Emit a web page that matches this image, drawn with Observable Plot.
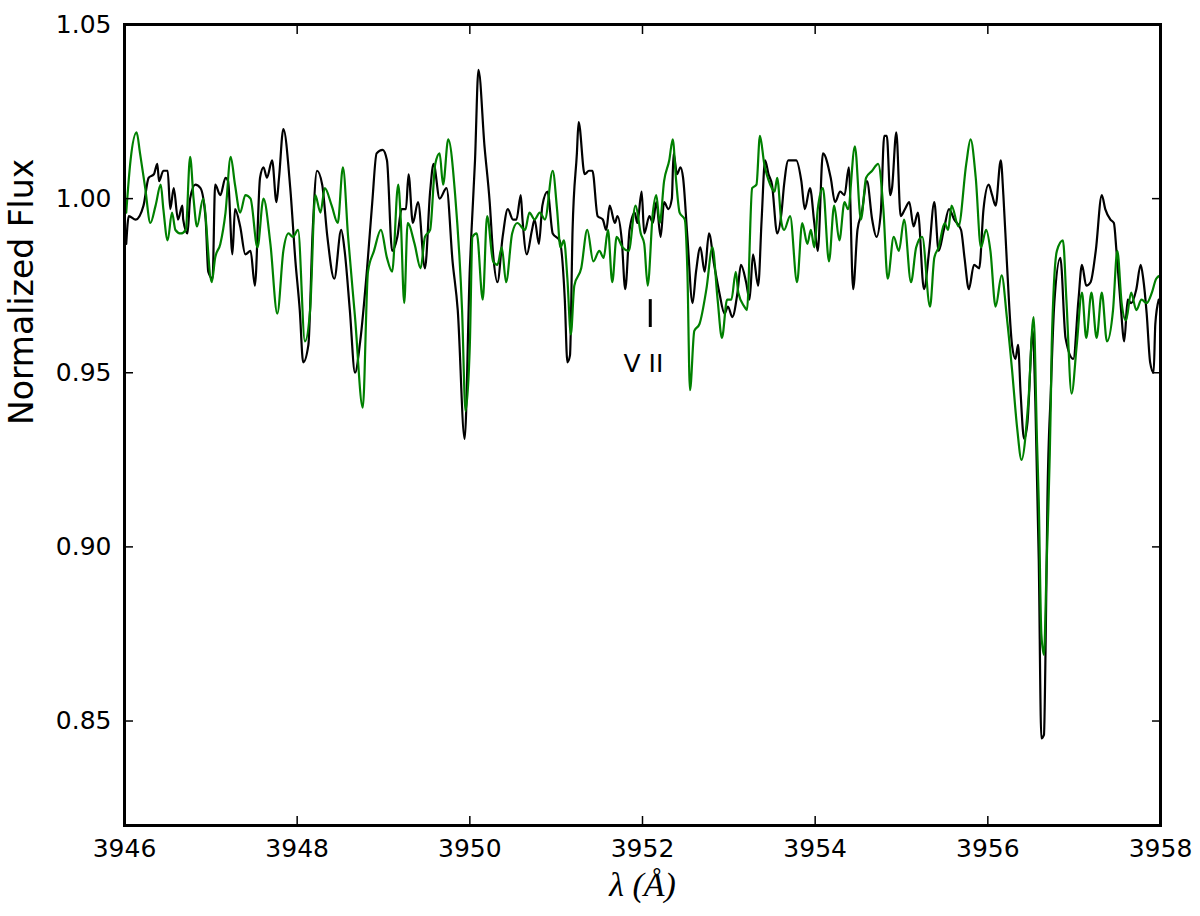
<!DOCTYPE html>
<html><head><meta charset="utf-8">
<script src="https://cdn.jsdelivr.net/npm/d3@7"></script>
<script src="https://cdn.jsdelivr.net/npm/@observablehq/plot@0.6"></script>
<style>body{margin:0;background:#fff}</style>
</head><body><div id="chart"></div>
<script>
// [wavelength (Å), normalized flux]
const blackSpectrum = [
[3946.02,0.987],[3946.05,0.995],[3946.13,0.994],[3946.22,0.998],[3946.28,1.006],[3946.34,1.007],[3946.38,1.010],[3946.40,1.005],[3946.45,1.008],[3946.50,1.008],
[3946.53,0.997],[3946.57,1.003],[3946.62,0.994],[3946.67,0.998],[3946.68,0.994],[3946.73,0.990],[3946.76,1.000],[3946.82,1.004],[3946.88,1.003],[3946.94,0.994],
[3946.97,0.979],[3947.02,0.977],[3947.05,1.004],[3947.11,1.001],[3947.17,1.006],[3947.20,1.005],[3947.25,0.984],[3947.28,0.997],[3947.34,0.992],[3947.40,0.984],
[3947.46,0.985],[3947.51,0.975],[3947.57,1.006],[3947.61,1.009],[3947.65,1.006],[3947.71,1.011],[3947.76,0.999],[3947.79,1.006],[3947.84,1.020],[3947.92,1.003],
[3947.98,0.982],[3948.03,0.968],[3948.07,0.953],[3948.13,0.958],[3948.18,0.991],[3948.23,1.008],[3948.29,1.004],[3948.35,0.989],[3948.43,0.977],[3948.51,0.991],
[3948.55,0.985],[3948.61,0.968],[3948.67,0.950],[3948.73,0.959],[3948.81,0.980],[3948.87,0.999],[3948.92,1.013],[3948.99,1.014],[3949.04,1.011],[3949.10,0.985],
[3949.16,0.989],[3949.21,0.997],[3949.26,0.997],[3949.29,1.007],[3949.34,0.993],[3949.40,0.999],[3949.48,0.980],[3949.54,1.002],[3949.58,1.010],[3949.65,1.000],
[3949.73,1.003],[3949.80,0.982],[3949.86,0.968],[3949.94,0.931],[3950.00,0.980],[3950.02,0.991],[3950.06,1.011],[3950.10,1.037],[3950.17,1.015],[3950.23,0.999],
[3950.27,0.984],[3950.32,0.976],[3950.38,0.989],[3950.44,0.997],[3950.50,0.994],[3950.54,0.994],[3950.59,1.001],[3950.61,0.994],[3950.66,0.984],[3950.72,0.991],
[3950.75,0.994],[3950.80,0.987],[3950.84,0.998],[3950.90,1.002],[3950.96,0.990],[3951.04,0.988],[3951.10,0.971],[3951.13,0.953],[3951.16,0.955],[3951.19,0.991],
[3951.24,1.013],[3951.26,1.022],[3951.33,1.007],[3951.38,1.008],[3951.42,1.008],[3951.48,0.995],[3951.54,0.994],[3951.58,0.991],[3951.62,0.998],[3951.68,0.993],
[3951.71,0.995],[3951.76,0.988],[3951.80,0.974],[3951.85,0.991],[3951.91,0.996],[3951.94,0.993],[3951.99,1.002],[3952.02,0.990],[3952.08,0.995],[3952.12,0.993],
[3952.16,0.999],[3952.21,0.989],[3952.25,0.999],[3952.30,0.997],[3952.34,1.000],[3952.36,1.013],[3952.40,1.007],[3952.44,1.009],[3952.47,1.006],[3952.52,0.989],
[3952.58,0.970],[3952.62,0.979],[3952.67,0.986],[3952.72,0.979],[3952.77,0.990],[3952.83,0.981],[3952.89,0.973],[3952.95,0.967],[3952.99,0.969],[3953.04,0.966],
[3953.10,0.973],[3953.14,0.981],[3953.20,0.976],[3953.24,0.971],[3953.28,0.984],[3953.34,0.975],[3953.38,0.994],[3953.42,1.011],[3953.46,1.007],[3953.50,1.004],
[3953.56,0.990],[3953.61,0.996],[3953.64,1.004],[3953.69,1.011],[3953.73,1.011],[3953.78,1.011],[3953.84,1.005],[3953.88,0.997],[3953.94,1.003],[3953.99,0.993],
[3954.03,0.985],[3954.09,1.013],[3954.18,1.006],[3954.23,0.999],[3954.29,1.002],[3954.34,1.001],[3954.39,1.009],[3954.44,0.974],[3954.49,0.991],[3954.54,0.996],
[3954.60,1.005],[3954.66,0.994],[3954.71,0.989],[3954.76,0.996],[3954.80,1.018],[3954.83,1.018],[3954.87,1.001],[3954.89,1.003],[3954.94,1.019],[3954.99,0.995],
[3955.04,0.997],[3955.09,0.999],[3955.14,0.992],[3955.19,0.996],[3955.26,0.974],[3955.32,0.985],[3955.38,0.999],[3955.43,0.985],[3955.49,0.991],[3955.55,0.997],
[3955.61,0.994],[3955.69,0.991],[3955.73,0.983],[3955.78,0.974],[3955.84,0.981],[3955.90,0.980],[3955.95,0.997],[3956.01,1.004],[3956.05,1.001],[3956.09,0.998],
[3956.15,1.011],[3956.18,1.001],[3956.22,0.982],[3956.28,0.958],[3956.32,0.954],[3956.35,0.958],[3956.38,0.944],[3956.42,0.931],[3956.46,0.936],[3956.52,0.962],
[3956.55,0.942],[3956.59,0.896],[3956.62,0.845],[3956.65,0.846],[3956.67,0.873],[3956.69,0.913],[3956.73,0.945],[3956.77,0.970],[3956.84,0.983],[3956.90,0.960],
[3956.99,0.954],[3957.05,0.971],[3957.09,0.981],[3957.14,0.975],[3957.19,0.976],[3957.25,0.985],[3957.32,1.001],[3957.36,0.997],[3957.42,0.994],[3957.46,0.993],
[3957.49,0.985],[3957.54,0.969],[3957.58,0.959],[3957.62,0.971],[3957.66,0.970],[3957.72,0.974],[3957.77,0.981],[3957.80,0.977],[3957.84,0.967],[3957.88,0.953],
[3957.92,0.950],[3957.94,0.964],[3957.98,0.971]
];
const greenSpectrum = [
[3946.02,0.996],[3946.07,1.011],[3946.14,1.019],[3946.18,1.013],[3946.24,1.003],[3946.30,0.993],[3946.36,0.998],[3946.42,1.004],[3946.45,0.997],[3946.50,0.988],
[3946.55,0.996],[3946.59,0.991],[3946.65,0.990],[3946.71,0.991],[3946.76,1.012],[3946.80,1.000],[3946.84,0.992],[3946.91,1.000],[3947.01,0.976],[3947.05,0.983],
[3947.11,0.987],[3947.17,0.996],[3947.23,1.012],[3947.28,1.004],[3947.34,0.996],[3947.40,1.001],[3947.46,1.000],[3947.54,0.986],[3947.61,1.000],[3947.69,0.987],
[3947.77,0.967],[3947.84,0.985],[3947.90,0.990],[3947.95,0.989],[3948.01,0.991],[3948.09,0.959],[3948.15,0.968],[3948.21,1.001],[3948.27,0.996],[3948.32,1.003],
[3948.40,0.998],[3948.47,0.993],[3948.53,1.009],[3948.59,0.989],[3948.67,0.966],[3948.76,0.940],[3948.82,0.979],[3948.89,0.985],[3948.97,0.991],[3949.04,0.983],
[3949.10,0.979],[3949.17,1.004],[3949.20,0.994],[3949.24,0.970],[3949.28,0.993],[3949.36,0.987],[3949.43,0.980],[3949.48,0.989],[3949.54,0.991],[3949.60,1.010],
[3949.65,1.013],[3949.69,1.004],[3949.75,1.017],[3949.83,1.001],[3949.91,0.968],[3949.95,0.939],[3950.00,0.958],[3950.03,0.989],[3950.08,0.990],[3950.15,0.971],
[3950.20,0.995],[3950.27,0.982],[3950.32,0.981],[3950.37,0.986],[3950.42,0.976],[3950.49,0.990],[3950.55,0.993],[3950.64,0.991],[3950.69,0.996],[3950.75,0.994],
[3950.81,0.996],[3950.87,0.994],[3950.96,1.008],[3951.01,0.997],[3951.05,0.986],[3951.09,0.988],[3951.13,0.977],[3951.17,0.961],[3951.21,0.975],[3951.29,0.980],
[3951.36,0.991],[3951.43,0.982],[3951.50,0.985],[3951.55,0.983],[3951.60,0.991],[3951.65,0.976],[3951.70,0.989],[3951.77,0.986],[3951.84,0.985],[3951.92,0.998],
[3951.98,0.990],[3952.02,0.987],[3952.06,0.975],[3952.12,0.996],[3952.16,1.001],[3952.20,0.993],[3952.25,1.005],[3952.31,1.011],[3952.35,1.017],[3952.39,1.005],
[3952.43,0.996],[3952.49,0.994],[3952.52,0.979],[3952.55,0.945],[3952.60,0.962],[3952.66,0.964],[3952.74,0.974],[3952.81,0.986],[3952.87,0.971],[3952.92,0.960],
[3952.98,0.971],[3953.03,0.971],[3953.08,0.979],[3953.11,0.973],[3953.18,0.969],[3953.21,0.968],[3953.27,1.003],[3953.32,1.004],[3953.36,1.018],[3953.41,1.010],
[3953.48,1.004],[3953.53,1.002],[3953.56,1.006],[3953.61,0.993],[3953.64,0.991],[3953.71,0.995],[3953.79,0.976],[3953.85,0.993],[3953.91,0.987],[3953.95,0.991],
[3953.99,0.986],[3954.03,0.997],[3954.09,1.003],[3954.16,0.982],[3954.22,0.998],[3954.28,0.988],[3954.34,0.999],[3954.38,0.997],[3954.46,1.015],[3954.53,0.994],
[3954.59,1.006],[3954.66,1.008],[3954.73,1.010],[3954.79,0.997],[3954.84,0.977],[3954.91,0.989],[3954.97,0.985],[3955.03,0.994],[3955.11,0.976],[3955.17,0.986],
[3955.24,0.989],[3955.33,0.969],[3955.38,0.983],[3955.43,0.986],[3955.50,0.993],[3955.54,0.991],[3955.58,0.998],[3955.66,0.992],[3955.75,1.010],[3955.80,1.017],
[3955.86,1.006],[3955.92,0.986],[3955.98,0.991],[3956.03,0.985],[3956.09,0.969],[3956.16,0.978],[3956.22,0.966],[3956.28,0.951],[3956.34,0.934],[3956.39,0.925],
[3956.47,0.942],[3956.53,0.966],[3956.57,0.930],[3956.59,0.913],[3956.62,0.875],[3956.65,0.869],[3956.68,0.894],[3956.73,0.942],[3956.74,0.958],[3956.80,0.985],
[3956.87,0.988],[3956.91,0.971],[3956.97,0.944],[3957.03,0.958],[3957.09,0.973],[3957.14,0.960],[3957.20,0.973],[3957.26,0.960],[3957.32,0.973],[3957.38,0.959],
[3957.45,0.968],[3957.50,0.985],[3957.55,0.970],[3957.60,0.965],[3957.66,0.973],[3957.72,0.968],[3957.78,0.971],[3957.84,0.970],[3957.90,0.973],[3957.95,0.977],
[3958.00,0.978]
];
const xTicks = [3946, 3948, 3950, 3952, 3954, 3956, 3958];
const yTicks = [0.85, 0.90, 0.95, 1.00, 1.05];
const markerWave = [3952.09];
const markerFlux = [0.963, 0.971];
const lineLabels = [{wave: 3952.01, flux: 0.9524, text: "V II"}];

const chart = Plot.plot({
  width: 1200, height: 916,
  marginLeft: 124, marginRight: 40, marginTop: 24, marginBottom: 91,
  style: {fontFamily: "DejaVu Sans", fontSize: "25px", background: "white", color: "black"},
  x: {domain: [3946, 3958], label: null},
  y: {domain: [0.82, 1.05], label: null},
  marks: [
    Plot.line(blackSpectrum, {x: d => d[0], y: d => d[1], stroke: "black", strokeWidth: 2.2, curve: "monotone-x", clip: true}),
    Plot.line(greenSpectrum, {x: d => d[0], y: d => d[1], stroke: "#008000", strokeWidth: 2.2, curve: "monotone-x", clip: true}),
    Plot.ruleX(markerWave, {x: d => d, y1: markerFlux[0], y2: markerFlux[1], stroke: "black", strokeWidth: 3}),
    Plot.text(lineLabels, {x: "wave", y: "flux", text: "text", fontSize: 25, fill: "black"}),
    Plot.axisX(xTicks, {anchor: "bottom", tickSize: -9, tickPadding: 23, strokeWidth: 1.5, fontSize: 25, label: null, tickFormat: d => String(d)}),
    Plot.axisX(xTicks, {anchor: "top", tickSize: -9, strokeWidth: 1.5, label: null, tickFormat: () => ""}),
    Plot.axisY(yTicks, {anchor: "left", tickSize: -9, tickPadding: 22, strokeWidth: 1.5, fontSize: 25, label: null, tickFormat: d3.format(".2f")}),
    Plot.axisY(yTicks, {anchor: "right", tickSize: -9, strokeWidth: 1.5, label: null, tickFormat: () => ""}),
    Plot.frame({stroke: "black", strokeWidth: 3}),
    Plot.text(["Normalized Flux"], {frameAnchor: "left", dx: -102, rotate: -90, fontSize: 33, fill: "black"}),
    Plot.text(["λ (Å)"], {frameAnchor: "bottom", dy: 70, fontSize: 34, fontFamily: "Liberation Serif", fontStyle: "italic", fill: "black"})
  ]
});
document.getElementById("chart").appendChild(chart);
</script>
</body></html>
